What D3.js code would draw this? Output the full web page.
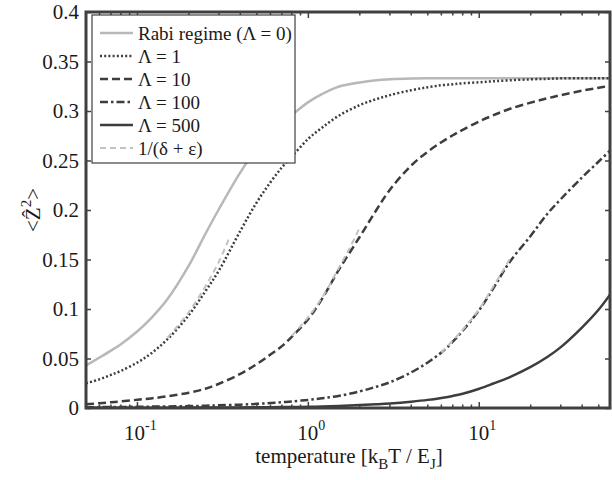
<!DOCTYPE html>
<html>
<head>
<meta charset="utf-8">
<script src="https://cdn.jsdelivr.net/npm/d3@7"></script>
<style>
body { margin: 0; background: #fff; }
text { font-family: "Liberation Serif", "Times New Roman", serif; fill: #1a1a1a; }
</style>
</head>
<body>
<div id="chart"></div>
<script>
// temperature samples (k_B T / E_J)
const temps = [0.05, 0.06, 0.07, 0.08, 0.1, 0.12, 0.15, 0.2, 0.25, 0.3, 0.4, 0.5, 0.6, 0.7, 0.8, 1, 1.2, 1.5,
               2, 2.5, 3, 4, 5, 6, 7, 8, 10, 12, 15, 20, 25, 30, 40, 50, 58.2];
const rabi      = [0.043, 0.051, 0.058, 0.0645, 0.0775, 0.0905, 0.110, 0.144, 0.176, 0.201, 0.238, 0.262, 0.277, 0.288, 0.296, 0.309, 0.317, 0.3245,
                   0.3288, 0.331, 0.332, 0.3328, 0.333, 0.333, 0.333, 0.333, 0.333, 0.333, 0.333, 0.333, 0.333, 0.333, 0.333, 0.333, 0.333];
const lambda1   = [0.025, 0.029, 0.0335, 0.0375, 0.046, 0.055, 0.0695, 0.094, 0.118, 0.139, 0.179, 0.208, 0.228, 0.243, 0.254, 0.272, 0.283, 0.295,
                   0.306, 0.312, 0.316, 0.321, 0.324, 0.326, 0.327, 0.328, 0.329, 0.330, 0.331, 0.332, 0.3325, 0.333, 0.333, 0.333, 0.333];
const lambda10  = [0.0037, 0.0048, 0.0058, 0.0067, 0.0083, 0.0097, 0.0118, 0.0155, 0.0195, 0.0245, 0.0345, 0.0445, 0.054, 0.0625, 0.072, 0.090, 0.110, 0.139,
                   0.173, 0.200, 0.2205, 0.245, 0.259, 0.2685, 0.2755, 0.281, 0.2895, 0.2955, 0.302, 0.3085, 0.3128, 0.316, 0.3205, 0.3235, 0.3255];
const lambda100 = [0.0008, 0.0009, 0.001, 0.0011, 0.0012, 0.0014, 0.0016, 0.0019, 0.0023, 0.0027, 0.0034, 0.0042, 0.005, 0.0058, 0.0066, 0.0082, 0.0098, 0.0122,
                   0.0168, 0.0215, 0.026, 0.036, 0.046, 0.056, 0.067, 0.078, 0.099, 0.120, 0.147, 0.174, 0.196, 0.211, 0.233, 0.249, 0.260];
const lambda500 = [0.0002, 0.0002, 0.0002, 0.0002, 0.0003, 0.0003, 0.0003, 0.0004, 0.0004, 0.0005, 0.0006, 0.0007, 0.0008, 0.0009, 0.001, 0.0012, 0.0015, 0.002,
                   0.003, 0.0038, 0.0046, 0.0064, 0.0082, 0.0102, 0.0122, 0.0144, 0.0195, 0.0245, 0.031, 0.0415, 0.0515, 0.0615, 0.0815, 0.0995, 0.1145];

// low temperature approximations 1/(delta + epsilon)
const fit1T   = [0.15, 0.2, 0.25, 0.3, 0.343];
const fit1    = [0.071, 0.097, 0.123, 0.148, 0.171];
const fit10T  = [0.8, 1, 1.25, 1.5, 1.75, 2.0];
const fit10   = [0.073, 0.092, 0.116, 0.141, 0.162, 0.1825];
const fit100T = [6, 8, 10, 12, 15.4];
const fit100  = [0.056, 0.079, 0.100, 0.122, 0.153];

const legendLabels = ["Rabi regime (\u039B = 0)", "\u039B = 1", "\u039B = 10", "\u039B = 100", "\u039B = 500", "1/(\u03B4 + \u03B5)"];
const yTicks = [0, 0.05, 0.1, 0.15, 0.2, 0.25, 0.3, 0.35, 0.4];
const xMajor = [0.1, 1, 10];
const xExp = ["-1", "0", "1"];

const W = 612, H = 480;
const margin = {top: 12, right: 2, bottom: 72, left: 86};
const width = W - margin.left - margin.right,
      height = H - margin.top - margin.bottom;
const frameColor = "#404040";
const dark = "#3d3d3d", light = "#b8b8b8";

const svg = d3.select("#chart").append("svg")
    .attr("width", W)
    .attr("height", H);
svg.append("rect").attr("width", W).attr("height", H).attr("fill", "#fff");

const g = svg.append("g").attr("transform", `translate(${margin.left},${margin.top})`);

const x = d3.scaleLog().domain([0.05, 58.2]).range([0, width]);
const y = d3.scaleLinear().domain([0, 0.4]).range([height, 0]);

g.append("clipPath").attr("id", "clip")
  .append("rect").attr("width", width).attr("height", height);

const line = d3.line()
    .x(d => x(d[0]))
    .y(d => y(d[1]))
    .curve(d3.curveCatmullRom.alpha(0.5));

const series = [
    {t: temps, v: rabi, color: light, dash: null, w: 2.5},
    {t: temps, v: lambda1, color: dark, dash: "2,2.2", w: 2.5},
    {t: temps, v: lambda10, color: dark, dash: "8,4", w: 2.5},
    {t: temps, v: lambda100, color: dark, dash: "8,3,2.5,3", w: 2.5},
    {t: temps, v: lambda500, color: dark, dash: null, w: 2.5}
];
const fitStyle = {color: "#c2c2c2", dash: "6,4", w: 2};
const fits = [
    {t: fit1T, v: fit1},
    {t: fit10T, v: fit10},
    {t: fit100T, v: fit100}
];

const plot = g.append("g").attr("clip-path", "url(#clip)");

series.forEach(s => {
    plot.append("path")
        .datum(d3.zip(s.t, s.v))
        .attr("fill", "none")
        .attr("stroke", s.color)
        .attr("stroke-width", s.w)
        .attr("stroke-dasharray", s.dash)
        .attr("d", line);
});

fits.forEach(f => {
    plot.append("path")
        .datum(d3.zip(f.t, f.v))
        .attr("fill", "none")
        .attr("stroke", fitStyle.color)
        .attr("stroke-width", fitStyle.w)
        .attr("stroke-dasharray", fitStyle.dash)
        .attr("d", line);
});

// y axes, ticks pointing inside (matlab box)
const yAxis = g.append("g")
    .call(d3.axisLeft(y).tickValues(yTicks).tickSize(-5).tickPadding(7)
        .tickFormat(d => String(+d.toFixed(2))));
yAxis.select(".domain").remove();
yAxis.selectAll("line").attr("stroke", frameColor).attr("stroke-width", 1.5);
yAxis.selectAll("text")
    .style("font-family", "Liberation Serif, serif")
    .style("font-size", "21px")
    .attr("fill", "#1a1a1a");

const yAxisR = g.append("g")
    .attr("transform", `translate(${width},0)`)
    .call(d3.axisRight(y).tickValues(yTicks).tickSize(-5).tickFormat(""));
yAxisR.select(".domain").remove();
yAxisR.selectAll("line").attr("stroke", frameColor).attr("stroke-width", 1.5);

// x ticks: majors and minors from the log scale
const xt = x.ticks().filter(d => d > 0.05 && d < 58.2);
const isMajor = d => xMajor.some(m => Math.abs(m - d) < 1e-9);
[height, 0].forEach(y0 => {
    const dir = y0 === 0 ? 1 : -1;
    g.append("g").selectAll("line").data(xt).enter().append("line")
        .attr("x1", d => x(d)).attr("x2", d => x(d))
        .attr("y1", y0)
        .attr("y2", d => y0 + dir * (isMajor(d) ? 6 : 3.5))
        .attr("stroke", frameColor)
        .attr("stroke-width", 1.5);
});

// x tick labels 10^n
xMajor.forEach((m, i) => {
    const t = g.append("text")
        .attr("x", x(m) + 3)
        .attr("y", height + 32)
        .attr("text-anchor", "middle")
        .style("font-size", "21px");
    t.append("tspan").text("10");
    t.append("tspan").attr("dy", -10).style("font-size", "14px").text(xExp[i]);
});

// frame
g.append("rect")
    .attr("width", width).attr("height", height)
    .attr("fill", "none")
    .attr("stroke", frameColor)
    .attr("stroke-width", 3);

// axis labels
const xl = g.append("text")
    .attr("x", width / 2 + 1)
    .attr("y", height + 55)
    .attr("text-anchor", "middle")
    .style("font-size", "21px");
xl.append("tspan").text("temperature [k");
xl.append("tspan").attr("dy", 6).style("font-size", "15px").text("B");
xl.append("tspan").attr("dy", -6).text("T / E");
xl.append("tspan").attr("dy", 6).style("font-size", "15px").text("J");
xl.append("tspan").attr("dy", -6).text("]");

const yl = svg.append("text")
    .attr("transform", `translate(40,${margin.top + height / 2}) rotate(-90)`)
    .attr("text-anchor", "middle")
    .style("font-size", "21px");
yl.append("tspan").text("<");
yl.append("tspan").text("Z\u0302");
yl.append("tspan").attr("dy", -9).style("font-size", "15px").text("2");
yl.append("tspan").attr("dy", 9).text(">");

// legend
const lg = g.append("g").attr("transform", "translate(6,3)");
lg.append("rect")
    .attr("width", 203).attr("height", 148)
    .attr("fill", "#fff")
    .attr("stroke", frameColor)
    .attr("stroke-width", 1.2);
const legendStyles = series.map(s => ({color: s.color, dash: s.dash, w: s.w})).concat([fitStyle]);
legendLabels.forEach((lab, i) => {
    const cy = 18 + i * 23;
    lg.append("line")
        .attr("x1", 8).attr("x2", 41)
        .attr("y1", cy).attr("y2", cy)
        .attr("stroke", legendStyles[i].color)
        .attr("stroke-width", legendStyles[i].w)
        .attr("stroke-dasharray", legendStyles[i].dash);
    lg.append("text")
        .attr("x", 46)
        .attr("y", cy + 6.5)
        .style("font-size", "19px")
        .text(lab);
});
</script>
</body>
</html>
